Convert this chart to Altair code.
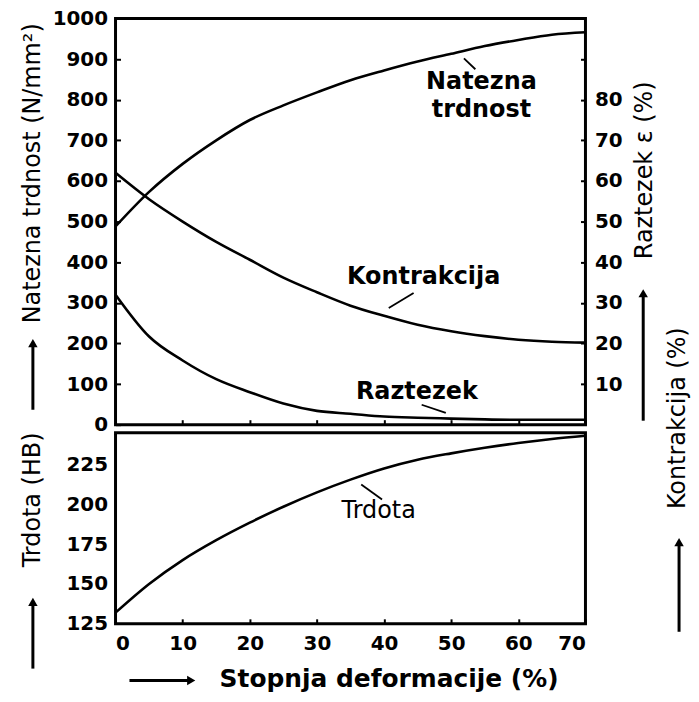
import altair as alt
import pandas as pd

# ---------------- data ----------------
x_vals = [0, 5, 10, 15, 20, 25, 30, 35, 40, 45, 50, 55, 60, 65, 70]
natezna = [488, 573, 642, 700, 750, 786, 818, 848, 872, 894, 913, 932, 947, 960, 966]
kontrakcija = [62, 55.5, 50, 45, 40.6, 36.2, 32.6, 29.3, 26.8, 24.6, 23.0, 21.8, 20.9, 20.4, 20.2]
raztezek = [32, 21.7, 15.8, 11.2, 8.0, 5.2, 3.4, 2.7, 2.0, 1.7, 1.5, 1.3, 1.2, 1.2, 1.2]
trdota = [132, 150, 165, 177.5, 188.5, 198.5, 207.5, 215.5, 222.5, 228, 232, 235.5, 238.5, 241, 243]

x_ticks = [0, 10, 20, 30, 40, 50, 60, 70]
left_top_ticks = [0, 100, 200, 300, 400, 500, 600, 700, 800, 900, 1000]
right_ticks = [10, 20, 30, 40, 50, 60, 70, 80, 90]
left_bottom_ticks = [125, 150, 175, 200, 225]

# curve labels (data units) and their leader lines
nat_lbl_text = ["Natezna", "trdnost"]
nat_lbl_x = [54.5, 54.5]
nat_lbl_y = [843, 775]
nat_lead = {"x": [51.9], "x2": [53.6], "y": [902], "y2": [875]}

kon_lbl_text = ["Kontrakcija"]
kon_lbl_x = [45.9]
kon_lbl_y = [36.3]
kon_lead = {"x": [44.4], "x2": [40.7], "y": [32.4], "y2": [28.7]}

raz_lbl_text = ["Raztezek"]
raz_lbl_x = [44.9]
raz_lbl_y = [8.0]
raz_lead = {"x": [45.6], "x2": [49.2], "y": [4.9], "y2": [2.9]}

trd_lbl_text = ["Trdota"]
trd_lbl_x = [39.2]
trd_lbl_y = [196]
trd_lead = {"x": [36.6], "x2": [39.7], "y": [212.5], "y2": [203]}

df = pd.DataFrame({"x": x_vals, "natezna": natezna, "kontrakcija": kontrakcija,
                   "raztezek": raztezek, "trdota": trdota})

W = 472
H_TOP = 408
H_BOT = 192
FONT = "DejaVu Sans"
one = pd.DataFrame({"a": [0]})

# ---------------- axes ----------------
top_x_axis = alt.Axis(values=x_ticks, labels=False, offset=-5, tickSize=5, tickWidth=2,
                      title=None, domain=False, grid=False)
bot_x_axis = alt.Axis(values=x_ticks, offset=-5, tickSize=5, tickWidth=2, labelPadding=10,
                      title="Stopnja deformacije (%)", titleX=104, titleY=60,
                      titleAlign="left", titleBaseline="middle", titleAngle=0,
                      titleFontWeight="bold", titleFontSize=25, domain=False, grid=False)

X_top = alt.X("x:Q", scale=alt.Scale(domain=[0, 70], nice=False, zero=False), axis=top_x_axis)
X_bot = alt.X("x:Q", scale=alt.Scale(domain=[0, 70], nice=False, zero=False), axis=bot_x_axis)

left_top_axis = alt.Axis(orient="left", values=left_top_ticks, format="d", offset=-5, tickSize=5,
                         tickWidth=2, labelPadding=8, title="Natezna trdnost (N/mm²)",
                         titleX=-88, titleY=155, titleAngle=270, titleAlign="center",
                         titleBaseline="middle", domain=False, grid=False)
right_axis = alt.Axis(orient="right", values=right_ticks, format="d", offset=-5, tickSize=5,
                      tickWidth=2, labelPadding=9,
                      labelExpr="datum.value <= 80 ? datum.label : ''",
                      title="Raztezek ε (%)", titleX=64, titleY=152, titleAngle=270,
                      titleAlign="center", titleBaseline="middle", titleFontSize=24,
                      domain=False, grid=False)
kon_axis = alt.Axis(orient="right", labels=False, ticks=False, domain=False, grid=False,
                    title="Kontrakcija (%)", titleX=92, titleY=401, titleAngle=270,
                    titleAlign="center", titleBaseline="middle", titleFontSize=24)
left_bot_axis = alt.Axis(orient="left", values=left_bottom_ticks, format="d", ticks=False,
                         labelPadding=8, title="Trdota (HB)", titleX=-83, titleY=67,
                         titleAngle=270, titleAlign="center", titleBaseline="middle",
                         domain=False, grid=False)

s_nat = alt.Scale(domain=[0, 1000], nice=False)
s_pct = alt.Scale(domain=[0, 100], nice=False)
s_trd = alt.Scale(domain=[125, 245], nice=False, zero=False)

LINE = dict(color="black", strokeWidth=2.6, interpolate="monotone")
TXT = dict(font=FONT, fontSize=24, fontWeight="bold", color="black", align="center", baseline="middle")
LEAD = dict(color="black", strokeWidth=1.8)


def group(yfield, scale, axis, lbl_text, lbl_x, lbl_y, lead, X, weight="bold"):
    line = alt.Chart(df).mark_line(**LINE).encode(
        x=X, y=alt.Y(f"{yfield}:Q", scale=scale, axis=axis))
    ldf = pd.DataFrame({"x": lbl_x, "y": lbl_y, "t": lbl_text})
    txt = dict(TXT)
    txt["fontWeight"] = weight
    label = alt.Chart(ldf).mark_text(**txt).encode(
        x=X, y=alt.Y("y:Q", scale=scale, axis=axis), text="t:N")
    leader = alt.Chart(pd.DataFrame(lead)).mark_rule(**LEAD).encode(
        x=X, x2="x2:Q", y=alt.Y("y:Q", scale=scale, axis=axis), y2="y2:Q")
    return alt.layer(line, label, leader)


def arrow_v(x, tip, bottom):
    shaft = alt.Chart(one).mark_rule(color="black", strokeWidth=3).encode(
        x=alt.value(x), y=alt.value(tip + 6), y2=alt.value(bottom))
    head = alt.Chart(one).mark_point(shape="triangle-up", filled=True, size=90,
                                     color="black", opacity=1).encode(
        x=alt.value(x), y=alt.value(tip + 6))
    return [shaft, head]


def arrow_h(y, start, tip):
    shaft = alt.Chart(one).mark_rule(color="black", strokeWidth=3).encode(
        y=alt.value(y), x=alt.value(start), x2=alt.value(tip - 6))
    head = alt.Chart(one).mark_point(shape="triangle-right", filled=True, size=90,
                                     color="black", opacity=1).encode(
        y=alt.value(y), x=alt.value(tip - 6))
    return [shaft, head]


g_nat = group("natezna", s_nat, left_top_axis, nat_lbl_text, nat_lbl_x, nat_lbl_y, nat_lead, X_top)
g_raz = group("raztezek", s_pct, right_axis, raz_lbl_text, raz_lbl_x, raz_lbl_y, raz_lead, X_top)
g_kon = group("kontrakcija", s_pct, kon_axis, kon_lbl_text, kon_lbl_x, kon_lbl_y, kon_lead, X_top)

top_arrows = alt.layer(*arrow_v(-83, 320, 393), *arrow_v(530, 270, 404))

top = alt.layer(g_nat, g_raz, g_kon, top_arrows).resolve_scale(y="independent").properties(
    width=W, height=H_TOP)

g_trd = group("trdota", s_trd, left_bot_axis, trd_lbl_text, trd_lbl_x, trd_lbl_y, trd_lead, X_bot,
              weight="normal")
bot_arrows = alt.layer(*arrow_v(-83, 164, 237), *arrow_v(566, 104, 200), *arrow_h(249, 14, 82))
bottom = alt.layer(g_trd, bot_arrows).properties(width=W, height=H_BOT)

chart = alt.vconcat(top, bottom, spacing=8, bounds="flush").properties(
    padding={"left": 11, "top": -3, "right": 0, "bottom": 0},
    background="white"
).configure_view(
    stroke="black", strokeWidth=3
).configure_axis(
    labelFont=FONT, labelFontWeight="bold", labelFontSize=20, labelColor="black",
    titleFont=FONT, titleFontSize=24, titleFontWeight="normal", titleColor="black",
    tickColor="black"
)

chart.save("out.html", embed_options={"renderer": "svg", "actions": False})
